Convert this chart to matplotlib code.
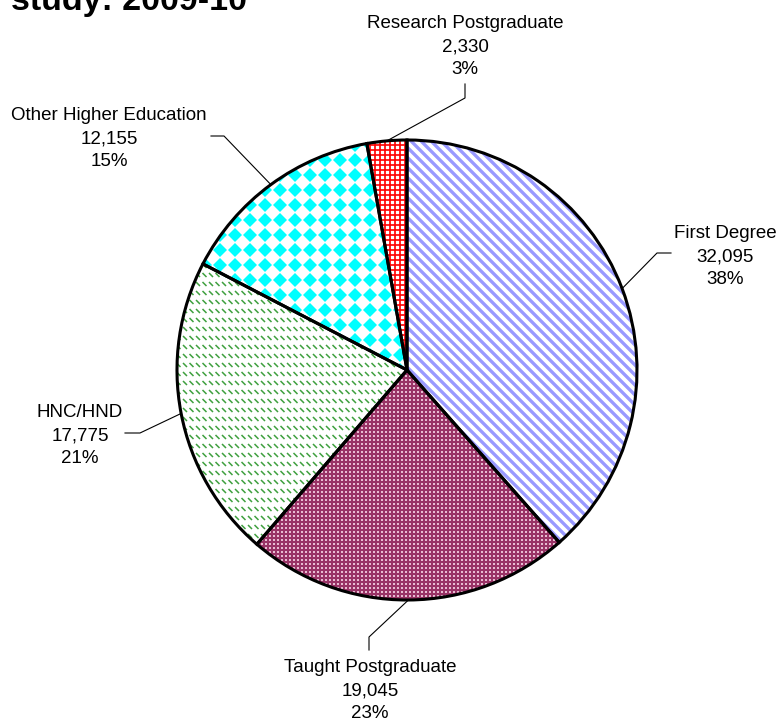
import numpy as np
import matplotlib.pyplot as plt
from matplotlib.collections import LineCollection, PolyCollection

plt.rcParams['font.family'] = ['Liberation Sans', 'DejaVu Sans']

# data
categories = ['First Degree', 'Taught Postgraduate', 'HNC/HND',
              'Other Higher Education', 'Research Postgraduate']
students = [32095, 19045, 17775, 12155, 2330]
shares = ['38%', '23%', '21%', '15%', '3%']

# layout (pixels, y down)
W, H = 781, 722
CX, CY, R = 407, 370, 230
label_pos = [(725, 238), (370, 672), (80, 417), (109, 120), (465, 28)]
knees = [[(657, 253), (671, 253)],
         [(369, 637), (369, 650)],
         [(140, 433), (125, 433)],
         [(224, 136), (211, 136)],
         [(465, 98), (465, 84)]]
LINE_H = 23.2

fig = plt.figure(figsize=(W / 100, H / 100), dpi=100)
ax = fig.add_axes([0, 0, 1, 1])

fills = ['white', '#993366', 'white', 'white', 'white']
wedges, _ = ax.pie(students, startangle=-90, counterclock=True, center=(CX, CY),
                   radius=R, colors=fills, frame=True,
                   wedgeprops=dict(linewidth=0, zorder=1))
ax.pie(students, startangle=-90, counterclock=True, center=(CX, CY), radius=R,
       frame=True, wedgeprops=dict(fill=False, edgecolor='black', linewidth=2.2, zorder=5))

# --- fill patterns, clipped to each wedge
# First Degree: lilac diagonal stripes
segs = [[(c - 100, -100), (c + 1000, 1000)] for c in np.arange(-1000, 1000, 10)]
lc = LineCollection(segs, colors='#9999ff', linewidths=2.4, zorder=2)
ax.add_collection(lc)
lc.set_clip_path(wedges[0])

# Taught Postgraduate: white dots on maroon
gx, gy = np.meshgrid(np.arange(250, 600, 4), np.arange(360, 610, 4))
dots = ax.scatter(gx.ravel(), gy.ravel(), s=1.2, marker='s', c='#e8bcd2',
                  linewidths=0, zorder=2)
dots.set_clip_path(wedges[1])

# HNC/HND: green diagonal dashes in rows
segs = []
for y in np.arange(255, 560, 9):
    for x in np.arange(170, 420, 6.5):
        segs.append([(x, y), (x + 4, y + 4)])
lc = LineCollection(segs, colors='#3fa03f', linewidths=1.1, zorder=2)
ax.add_collection(lc)
lc.set_clip_path(wedges[2])

# Other Higher Education: cyan diamonds
polys = []
d = 7
for y in np.arange(130, 380, 15):
    for x in np.arange(190, 420, 15):
        polys.append([(x - d, y), (x, y - d), (x + d, y), (x, y + d)])
pc = PolyCollection(polys, facecolors='#00ffff', edgecolors='none', zorder=2)
ax.add_collection(pc)
pc.set_clip_path(wedges[3])

# Research Postgraduate: red grid
segs = [[(x, 130), (x, 380)] for x in np.arange(360, 420, 5)]
segs += [[(360, y), (420, y)] for y in np.arange(130, 380, 5)]
lc = LineCollection(segs, colors='#ff0000', linewidths=1.2, zorder=2)
ax.add_collection(lc)
lc.set_clip_path(wedges[4])

# --- leader lines and labels
for w, kn, (lx, ly), name, n, pct in zip(wedges, knees, label_pos,
                                          categories, students, shares):
    mid = np.deg2rad((w.theta1 + w.theta2) / 2)
    ex, ey = CX + R * np.cos(mid), CY + R * np.sin(mid)
    xs = [ex] + [p[0] for p in kn]
    ys = [ey] + [p[1] for p in kn]
    ax.plot(xs, ys, color='black', linewidth=0.8, zorder=4)
    for k, s in enumerate([name, f'{n:,}', pct]):
        ax.text(lx, ly + k * LINE_H, s, ha='center', va='baseline',
                fontsize=13.5, color='black')

ax.text(11, 10, 'study: 2009-10', fontsize=24.5, fontweight='bold',
        ha='left', va='baseline')

ax.set_xlim(0, W)
ax.set_ylim(H, 0)
ax.set_aspect('auto')
ax.axis('off')

fig.savefig('out.png', dpi=100)
